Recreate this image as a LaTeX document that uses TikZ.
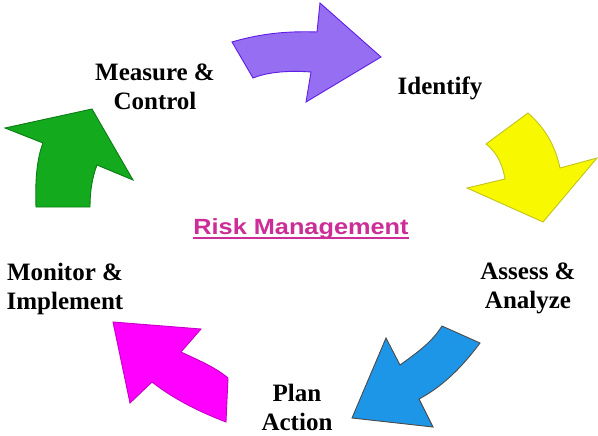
\documentclass[tikz,border=0pt]{standalone}
\usepackage{fontspec}
\setmainfont{Liberation Serif}
\newfontfamily\arialfont{Liberation Sans}
\usepackage{tikz}
\usetikzlibrary{positioning}

\definecolor{violetfill}{RGB}{150,110,242}
\definecolor{violetline}{RGB}{95,30,230}
\definecolor{yellowfill}{RGB}{248,248,0}
\definecolor{yellowline}{RGB}{195,195,30}
\definecolor{bluefill}{RGB}{30,150,232}
\definecolor{blueline}{RGB}{75,75,75}
\definecolor{magentafill}{RGB}{255,0,255}
\definecolor{magentaline}{RGB}{195,0,195}
\definecolor{greenfill}{RGB}{20,170,30}
\definecolor{greenline}{RGB}{10,125,20}
\definecolor{titlepink}{RGB}{204,45,150}

\begin{document}
\begin{tikzpicture}[x=1pt,y=-1pt,
  cycarrow/.style 2 args={fill=#1,draw=#2,line width=0.9pt,line join=miter},
  stage/.style={font=\fontsize{25}{29}\selectfont\bfseries,align=center,inner sep=0pt},
  title/.style={font=\arialfont\fontsize{22}{26}\selectfont\bfseries,text=titlepink,inner sep=0pt,xscale=1.15},
]
\useasboundingbox[fill=white] (0,0) rectangle (598,436);

\draw[cycarrow={violetfill}{violetline}] (232,42) .. controls (262,33) and (290,31) .. (317,32)
  -- (320,3) -- (381,57) -- (306,102) -- (311,72)
  .. controls (285,70) and (265,73) .. (253,78) -- cycle;
\draw[cycarrow={yellowfill}{yellowline}] (486,144) -- (528,113)
  .. controls (545,128) and (555,145) .. (560,168)
  -- (597,158) -- (543,222) -- (467,188) -- (505,179)
  .. controls (502,162) and (496,152) .. cycle;
\draw[cycarrow={bluefill}{blueline}] (442,326) -- (480,343)
  .. controls (460,370) and (440,388) .. (419,399)
  -- (433,427) -- (352,418) -- (386,338) -- (400,365)
  .. controls (418,352) and (432,342) .. cycle;
\draw[cycarrow={magentafill}{magentaline}] (113,322) -- (201,329) -- (181,352)
  .. controls (198,360) and (215,367) .. (228,378)
  -- (226,422) .. controls (200,412) and (175,400) .. (152,382)
  -- (130,403) -- cycle;
\draw[cycarrow={greenfill}{greenline}] (5,128) -- (92,109) -- (133,180) -- (97,165)
  .. controls (92,178) and (90,192) .. (90,207)
  -- (36,207) .. controls (35,180) and (37,158) .. (43,143) -- cycle;

\node (measure) [stage] at (155,87) {Measure \&\\Control};
\node (identify) [stage] at (440,88) {Identify};
\node (assess) [stage] at (528,288) {Assess \&\\Analyze};
\node (plan) [stage] at (297,407) {Plan\\Action};
\node (monitor) [stage] at (65,289) {Monitor \&\\Implement};
\node (risk) [title] at (301,229) {Risk Management};
\draw[titlepink,line width=1.3pt] ([yshift=-3.5pt]risk.base west) -- ([yshift=-3.5pt]risk.base east);
\end{tikzpicture}
\end{document}
